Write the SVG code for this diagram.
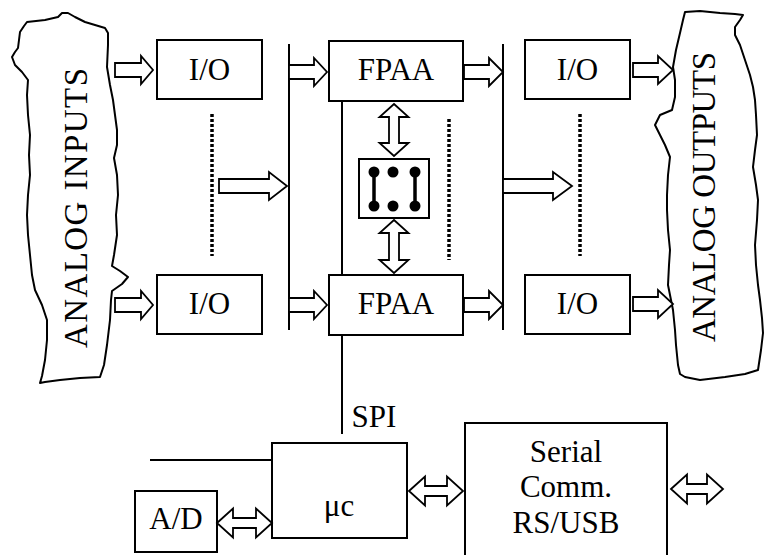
<svg xmlns="http://www.w3.org/2000/svg" width="764" height="555" viewBox="0 0 764 555">
<style>
.box{fill:#fff;stroke:#000;stroke-width:2}
.blob{fill:#fff;stroke:#000;stroke-width:2;stroke-linejoin:round}
.arr{fill:#fff;stroke:#000;stroke-width:1.8;stroke-linejoin:miter}
.ln{stroke:#000;stroke-width:2;fill:none}
.dot{stroke:#000;stroke-width:3.5;stroke-dasharray:3 2;fill:none}
text{font-family:'Liberation Serif','DejaVu Serif',serif;font-size:31px;fill:#000;text-anchor:middle}
.big{font-size:33px}
</style>
<rect width="764" height="555" fill="#fff"/>
<g id="analog-inputs">
<path class="blob" d="M27,22 L45,20 L58,17 L62,13 L68,13 L75,17 L85,22 L95,25 L105,28 L108,33 L108,45 L107,67 L110,85 L113,100 L115,115 L117,130 L117,145 L114,158 L117,175 L118,195 L116,215 L117,235 L114,255 L112,266 L120,271 L128,277 L122,284 L112,291 L111,300 L110,320 L107,345 L104,365 L100,377 L80,378 L60,380 L45,382 L40,383 L42,376 L45,360 L47,340 L47,320 L42,305 L35,290 L32,275 L30,255 L28,235 L27,215 L28,195 L30,175 L29,155 L30,135 L28,115 L27,95 L28,80 L22,72 L15,65 L12,57 L15,52 L18,48 L19,40 L20,32 L24,26 Z"/>
<text class="big" font-family="Liberation Serif, serif" transform="translate(87,208) rotate(-90)" textLength="280" lengthAdjust="spacing">ANALOG INPUTS</text>
</g>
<g id="analog-outputs">
<path class="blob" d="M685,12 L700,11 L720,13 L735,14 L743,15 L740,20 L735,27 L735,35 L740,45 L745,60 L750,75 L753,87 L755,100 L756,115 L757,135 L755,150 L753,167 L756,185 L758,200 L757,220 L755,245 L756,265 L758,285 L760,300 L762,318 L763,333 L761,350 L758,370 L745,374 L725,377 L700,380 L685,377 L680,374 L678,365 L676,345 L675,330 L673,310 L670,295 L668,285 L669,265 L670,250 L668,230 L667,210 L667,195 L668,175 L670,157 L665,145 L660,135 L655,125 L660,115 L672,110 L675,97 L675,80 L673,67 L676,50 L680,33 L683,20 Z"/>
<text class="big" font-family="Liberation Serif, serif" transform="translate(715,197) rotate(-90)" textLength="290" lengthAdjust="spacing">ANALOG OUTPUTS</text>
</g>
<g id="io-in-top"><rect class="box" x="157" y="40" width="105" height="59"/><text x="209.5" y="80">I/O</text></g>
<g id="io-in-bottom"><rect class="box" x="157" y="275" width="105" height="59"/><text x="209.5" y="314">I/O</text></g>
<g id="fpaa-top"><rect class="box" x="329" y="41" width="134" height="60"/><text x="396" y="80">FPAA</text></g>
<g id="fpaa-bottom"><rect class="box" x="329" y="275" width="134" height="60"/><text x="396" y="314">FPAA</text></g>
<g id="io-out-top"><rect class="box" x="525" y="40" width="105" height="59"/><text x="577.5" y="80">I/O</text></g>
<g id="io-out-bottom"><rect class="box" x="525" y="275" width="105" height="59"/><text x="577.5" y="314">I/O</text></g>
<g id="switch-matrix">
<rect class="box" x="359" y="159" width="70" height="59"/>
<line x1="374" y1="172" x2="374" y2="206" stroke="#000" stroke-width="3.5"/>
<line x1="415" y1="172" x2="415" y2="206" stroke="#000" stroke-width="3.5"/>
<circle cx="374" cy="172" r="5.5"/><circle cx="393" cy="172" r="5.5"/><circle cx="415" cy="172" r="5.5"/>
<circle cx="374" cy="206" r="5.5"/><circle cx="393" cy="206" r="5.5"/><circle cx="415" cy="206" r="5.5"/>
</g>
<g id="uc"><rect class="box" x="272" y="443" width="135" height="95"/><text x="339" y="516">μc</text></g>
<g id="ad"><rect class="box" x="135" y="491" width="82" height="61"/><text x="176" y="529">A/D</text></g>
<g id="serial"><rect class="box" x="465" y="423" width="202" height="140"/>
<text x="566" y="462">Serial</text><text x="566" y="497">Comm.</text><text x="566" y="533">RS/USB</text></g>
<g id="connectors">
<line class="ln" x1="289" y1="44" x2="289" y2="330"/>
<line class="ln" x1="503" y1="44" x2="503" y2="330"/>
<line class="ln" x1="342" y1="101" x2="342" y2="275"/>
<line class="ln" x1="342" y1="335" x2="342" y2="434"/>
<line class="ln" x1="150" y1="460" x2="272" y2="460"/>
<line class="dot" x1="212" y1="114" x2="212" y2="256"/>
<line class="dot" x1="449" y1="119" x2="449" y2="260"/>
<line class="dot" x1="580" y1="114" x2="580" y2="256"/>
<text x="374" y="427">SPI</text>
<path class="arr" d="M115,63 L141,63 L141,56 L153,70 L141,84 L141,77 L115,77 Z"/>
<path class="arr" d="M115,298 L141,298 L141,291 L153,305 L141,319 L141,312 L115,312 Z"/>
<path class="arr" d="M219,179 L269,179 L269,172 L287,186 L269,200 L269,193 L219,193 Z"/>
<path class="arr" d="M289,65 L314,65 L314,58 L327,72 L314,86 L314,79 L289,79 Z"/>
<path class="arr" d="M289,298 L314,298 L314,291 L327,305 L314,319 L314,312 L289,312 Z"/>
<path class="arr" d="M464,65 L489,65 L489,58 L503,72 L489,86 L489,79 L464,79 Z"/>
<path class="arr" d="M464,298 L489,298 L489,291 L503,305 L489,319 L489,312 L464,312 Z"/>
<path class="arr" d="M503,179 L553,179 L553,172 L572,186 L553,200 L553,193 L503,193 Z"/>
<path class="arr" d="M633,63 L658,63 L658,56 L673,70 L658,84 L658,77 L633,77 Z"/>
<path class="arr" d="M633,297 L658,297 L658,290 L673,304 L658,318 L658,311 L633,311 Z"/>
<path class="arr" d="M394,104 L408.5,117 L399,117 L399,143 L408.5,143 L394,156 L379.5,143 L389,143 L389,117 L379.5,117 Z"/>
<path class="arr" d="M394,220 L408.5,233 L399,233 L399,260 L408.5,260 L394,273 L379.5,260 L389,260 L389,233 L379.5,233 Z"/>
<path class="arr" d="M217,523 L233,508.5 L233,518 L256,518 L256,508.5 L272,523 L256,537.5 L256,528 L233,528 L233,537.5 Z"/>
<path class="arr" d="M409,491 L425,476.5 L425,486 L447,486 L447,476.5 L463,491 L447,505.5 L447,496 L425,496 L425,505.5 Z"/>
<path class="arr" d="M671,489 L687,474.5 L687,484 L707,484 L707,474.5 L723,489 L707,503.5 L707,494 L687,494 L687,503.5 Z"/>
</g>
</svg>
